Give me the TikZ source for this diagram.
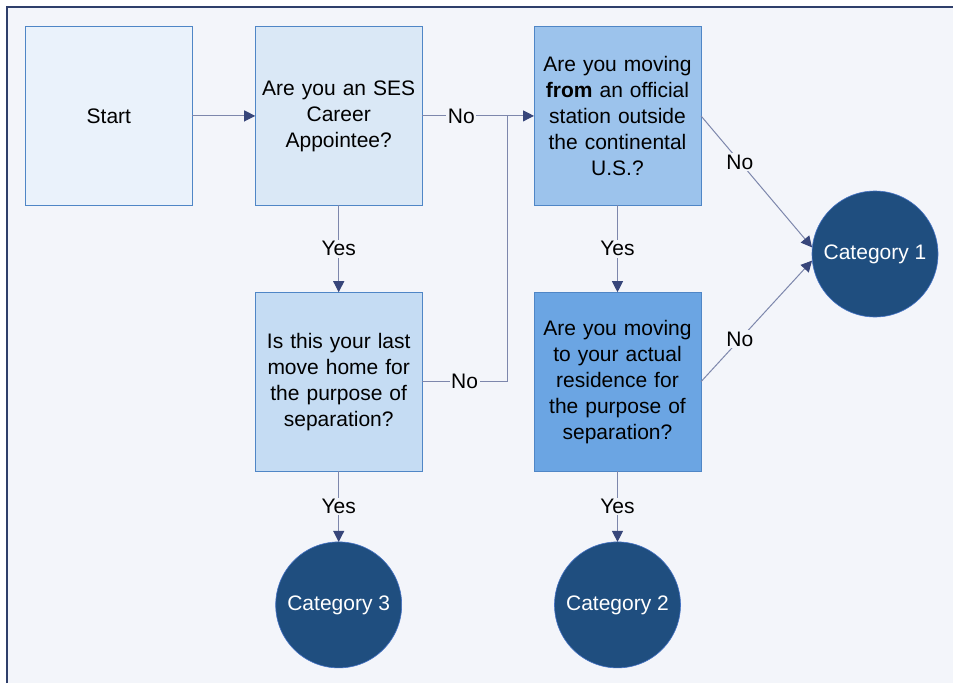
\documentclass[tikz,border=0pt]{standalone}
\usepackage{fontspec}
\setmainfont{Liberation Sans}
\usepackage{tikz}
\usetikzlibrary{matrix,arrows.meta}

\definecolor{bgcol}{HTML}{F3F5FA}
\definecolor{framecol}{HTML}{2F3F6B}
\definecolor{boxline}{HTML}{4F86C6}
\definecolor{linecol}{HTML}{7D87AC}
\definecolor{tipcol}{HTML}{37467A}
\definecolor{startfill}{HTML}{EAF2FB}
\definecolor{qafill}{HTML}{DAE8F6}
\definecolor{qbfill}{HTML}{C5DCF3}
\definecolor{qcfill}{HTML}{9CC3EC}
\definecolor{qdfill}{HTML}{6BA5E3}
\definecolor{catfill}{HTML}{1F4E7F}
\definecolor{catline}{HTML}{4472C4}

\tikzset{
  box/.style={draw=boxline, line width=0.8pt, rectangle, minimum width=167pt,
    minimum height=179pt, text width=159pt, inner sep=4pt, align=center,
    font=\fontsize{21}{26}\selectfont},
  cat/.style={draw=catline, line width=0.6pt, circle, fill=catfill, text=white,
    minimum size=126pt, inner sep=0pt, font=\fontsize{21}{26}\selectfont},
  arr/.style={draw=linecol, line width=1pt,
    -{Triangle[length=11pt,width=11pt,color=tipcol]}},
  plain/.style={draw=linecol, line width=1pt},
  lbl/.style={fill=bgcol, inner sep=1.5pt, text=black,
    font=\fontsize{21}{24}\selectfont}
}

\begin{document}
\begin{tikzpicture}[x=1pt,y=-1pt]
  \useasboundingbox (0,0) rectangle (953,683);
  \fill[bgcol] (7,7) rectangle (953,683);
  \draw[framecol, line width=2pt] (7,683) -- (7,7) -- (953,7);

  \matrix (m) [matrix of nodes, column sep=0pt, row sep=0pt, inner sep=0pt,
    outer sep=0pt, nodes={anchor=center}, anchor=north west] at (25,26)
  {
|[box, fill=startfill]| Start
 &[62pt] |[box, fill=qafill]| {Are you an SES\\Career\\Appointee?}
 &[111pt] |[box, fill=qcfill]| {Are you moving\\\textbf{from} an official\\station outside\\the continental\\U.S.?} \\[86pt]
 & |[box, fill=qbfill]| {Is this your last\\move home for\\the purpose of\\separation?}
 & |[box, fill=qdfill]| {Are you moving\\to your actual\\residence for\\the purpose of\\separation?} \\[70pt]
 & |[cat]| Category 3
 & |[cat]| Category 2 \\
};
  \node[cat] (c1) at (875,254) {Category 1};
  \coordinate (j) at (507,115.5);

  \path[every edge/.style={arr}]
  (m-1-1) edge (m-1-2)
  (m-1-2) edge node [lbl, pos=0.35] {No} (m-1-3)
          edge node [lbl] {Yes} (m-2-2)
  (m-1-3) edge node [lbl] {Yes} (m-2-3)
  (m-1-3.east) edge node [lbl, pos=0.35] {No} (c1.174)
  (m-2-3) edge node [lbl] {Yes} (m-3-3)
  (m-2-3.east) edge node [lbl, pos=0.35] {No} (c1.186)
  (m-2-2) edge node [lbl] {Yes} (m-3-2)
;
  \draw[plain] (m-2-2) -- node [lbl] {No} (m-2-2 -| j) -- (j);
\end{tikzpicture}
\end{document}
